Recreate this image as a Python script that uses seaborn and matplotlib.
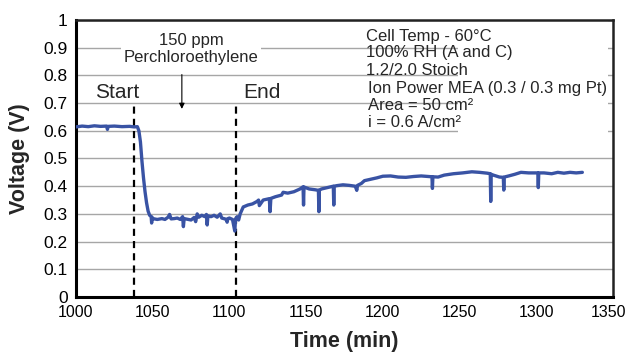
import numpy as np
import pandas as pd
import matplotlib
matplotlib.use('Agg')
import matplotlib.pyplot as plt
import matplotlib.transforms as mtransforms
import seaborn as sns

# Cell voltage (spikes kept as short down/up excursions)
time_min = [1000, 1004, 1008, 1012, 1016, 1020, 1020.5, 1021, 1025, 1030, 1035, 1038, 1040,
            1041, 1042, 1043, 1044, 1045, 1046, 1047, 1048, 1049, 1049.3, 1049.6, 1050,
            1053, 1056, 1058, 1060, 1061, 1062, 1064, 1066, 1068, 1069.5, 1070, 1070.5, 1073,
            1075, 1077, 1078, 1079, 1080, 1082, 1084, 1085, 1085.5, 1086, 1088, 1090, 1092,
            1094, 1095, 1097, 1098, 1098.5, 1099, 1100, 1102, 1103.5, 1104, 1105, 1106, 1107,
            1109, 1112, 1115, 1118, 1119, 1119.5, 1122, 1126, 1126.5, 1127, 1130, 1134, 1135,
            1138, 1142, 1146, 1148, 1148.3, 1148.6, 1152, 1156, 1158, 1158.3, 1158.6, 1160,
            1164, 1167.7, 1168, 1168.3, 1170, 1174, 1178, 1182, 1183, 1183.5, 1186, 1188, 1192,
            1196, 1200, 1205, 1210, 1215, 1220, 1225, 1230, 1232, 1232.3, 1232.6, 1236, 1240,
            1246, 1252, 1258, 1263, 1268, 1270, 1270.3, 1270.6, 1272, 1276, 1278.5, 1278.8,
            1279.1, 1282, 1286, 1290, 1295, 1301, 1301.3, 1301.6, 1305, 1310, 1314, 1318,
            1322, 1326, 1330]
voltage = [0.614, 0.617, 0.615, 0.618, 0.616, 0.617, 0.605, 0.616, 0.617, 0.615, 0.616, 0.614, 0.615,
           0.60, 0.56, 0.49, 0.43, 0.38, 0.34, 0.31, 0.295, 0.29, 0.267, 0.288, 0.283,
           0.280, 0.283, 0.280, 0.288, 0.298, 0.282, 0.283, 0.285, 0.280, 0.29, 0.254, 0.283, 0.280,
           0.278, 0.287, 0.272, 0.300, 0.288, 0.295, 0.290, 0.298, 0.260, 0.293, 0.290, 0.295, 0.288,
           0.300, 0.285, 0.282, 0.280, 0.270, 0.283, 0.285, 0.280, 0.238, 0.282, 0.290, 0.278, 0.300,
           0.325, 0.332, 0.336, 0.345, 0.350, 0.330, 0.350, 0.355, 0.308, 0.356, 0.362, 0.368, 0.378,
           0.375, 0.380, 0.390, 0.398, 0.332, 0.397, 0.390, 0.387, 0.385, 0.308, 0.386, 0.390,
           0.395, 0.400, 0.332, 0.400, 0.402, 0.405, 0.403, 0.400, 0.385, 0.403, 0.410, 0.420, 0.425,
           0.430, 0.436, 0.437, 0.433, 0.432, 0.435, 0.437, 0.435, 0.434, 0.392, 0.434, 0.433, 0.440,
           0.445, 0.448, 0.452, 0.450, 0.447, 0.445, 0.345, 0.443, 0.440, 0.433, 0.432, 0.386,
           0.433, 0.437, 0.443, 0.450, 0.448, 0.448, 0.395, 0.448, 0.448, 0.445, 0.450, 0.447,
           0.450, 0.448, 0.450]

start_min = 1038
end_min = 1104.5
y_ticks = [0, 0.1, 0.2, 0.3, 0.4, 0.5, 0.6, 0.7, 0.8, 0.9, 1]
x_ticks = [1000, 1050, 1100, 1150, 1200, 1250, 1300, 1350]
conditions = ['Cell Temp - 60°C', '100% RH (A and C)', '1.2/2.0 Stoich',
              'Ion Power MEA (0.3 / 0.3 mg Pt)', 'Area = 50 cm²', 'i = 0.6 A/cm²']

sns.set_style('white')
plt.rcParams['font.family'] = ['Liberation Sans', 'DejaVu Sans']

df = pd.DataFrame({'Time (min)': time_min, 'Voltage (V)': voltage})

fig = plt.figure(figsize=(6.29, 3.59), dpi=100)
ax = fig.add_axes([0.1208, 0.1727, 0.8538, 0.7716])

sns.lineplot(data=df, x='Time (min)', y='Voltage (V)', ax=ax, color='#3953a4',
             lw=2.4, estimator=None, sort=False, zorder=4)

ax.set_xlim(1000, 1350)
ax.set_ylim(0, 1)
ax.set_xticks(x_ticks)
ax.set_xticklabels([str(t) for t in x_ticks], fontsize=11.5)
ax.set_yticks(y_ticks)
ax.set_yticklabels([f'{t:g}' for t in y_ticks], fontsize=12.5)
ax.yaxis.grid(True, color='#a6a6a6', lw=1)
ax.xaxis.grid(False)
ax.set_axisbelow(True)
ax.tick_params(direction='out', length=4, width=1, colors='black', pad=2)

for s in ['left', 'bottom']:
    ax.spines[s].set_linewidth(2.2)
    ax.spines[s].set_color('black')
for s in ['top', 'right']:
    ax.spines[s].set_linewidth(1.8)
    ax.spines[s].set_color('#222222')

ax.set_xlabel('Time (min)', fontsize=15.5, fontweight='bold', labelpad=8)
ax.set_ylabel('Voltage (V)', fontsize=15.5, fontweight='bold', labelpad=10)

# start / end markers
for xv in [start_min, end_min]:
    ax.plot([xv, xv], [0, 0.70], color='black', lw=1.6, dashes=(3.2, 2.3), zorder=3)
ax.text(1012.4, 0.717, 'Start', fontsize=15, va='baseline', ha='left')
ax.text(1109, 0.717, 'End', fontsize=15, va='baseline', ha='left')

ax.text(1075, 0.895, '150 ppm\nPerchloroethylene', fontsize=12, ha='center', va='center',
        linespacing=1.1, zorder=3,
        bbox=dict(facecolor='white', edgecolor='none', pad=2))
ax.annotate('', xy=(1069, 0.669), xytext=(1069, 0.813),
            arrowprops=dict(arrowstyle='-|>', color='black', lw=0.8, mutation_scale=8))

# white patch behind the conditions block
ax.add_patch(plt.Rectangle((1249, 0.56), 98, 0.44, facecolor='white', edgecolor='none', zorder=1.5))
line_y = [0.924, 0.868, 0.801, 0.738, 0.675, 0.615]
line_x = [1189, 1189, 1189, 1190.4, 1190, 1190]
for tx, xx, yy in zip(conditions, line_x, line_y):
    ax.text(xx, yy, tx, fontsize=12, va='baseline', ha='left', zorder=3)

# nudge the last tick label a few pixels left so it stays on the canvas
last = ax.get_xticklabels()[-1]
last.set_transform(last.get_transform() + mtransforms.ScaledTranslation(-0.05, 0, fig.dpi_scale_trans))

fig.savefig('out.png', dpi=100)
